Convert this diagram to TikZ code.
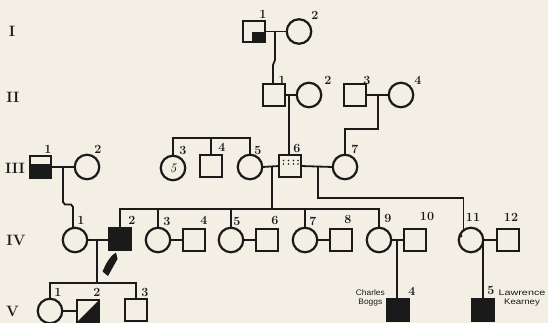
\documentclass[tikz,border=0pt]{standalone}
\usepackage{fontspec}
\newfontfamily\labfont{Liberation Sans}
\definecolor{bg}{HTML}{F3EFE5}
\definecolor{ink}{HTML}{1A1A1A}
\begin{document}
\begin{tikzpicture}[x=1pt,y=-1pt,line join=miter,
  male/.style={draw=ink,line width=2.2pt,rectangle,minimum size=21.5pt,inner sep=0pt,outer sep=0pt},
  female/.style={draw=ink,line width=2.2pt,circle,minimum size=24.5pt,inner sep=0pt,outer sep=0pt},
  conn/.style={draw=ink,line width=1.8pt},
  num/.style={font=\bfseries\fontsize{12.5}{12.5}\selectfont,text=ink,inner sep=0pt},
  gen/.style={font=\bfseries\fontsize{15}{15}\selectfont,text=ink,inner sep=0pt},
  pname/.style={font=\labfont\fontsize{8}{9}\selectfont,text=ink,inner sep=0pt}]
\fill[bg] (0,0) rectangle (548,323);
\useasboundingbox (0,0) rectangle (548,323);

% generation labels
\node[gen] (gI) at (12,31) {I};
\node[gen] (gII) at (13,97) {II};
\node[gen] (gIII) at (15,168) {III};
\node[gen] (gIV) at (16,240) {IV};
\node[gen] (gV) at (12.5,311) {V};

% generation I
\node[male] (i1) at (254,31.5) {};
\fill[ink] (252,32.5) rectangle (i1.south east);
\node[female] (i2) at (299,31.5) {};

% generation II
\node[male] (ii1) at (274,95) {};
\node[female] (ii2) at (309,95) {};
\node[male] (ii3) at (355,95) {};
\node[female] (ii4) at (401,95) {};

% generation III
\node[male] (iii1) at (40.5,167) {};
\fill[ink] (29.5,164) rectangle (iii1.south east);
\node[female] (iii2) at (87,167) {};
\node[female,font=\itshape\fontsize{13}{13}\selectfont] (iii3) at (173,168) {5};
\node[male] (iii4) at (211,166) {};
\node[female] (iii5) at (250,167) {};
\node[male] (iii6) at (290,166) {};
\foreach \x in {283.5,288.5,293.5,298}{\fill[ink] (\x,160.5) circle (0.9) (\x,164) circle (0.9);}
\node[female] (iii7) at (345,167) {};

% generation IV
\node[female] (iv1) at (75,240) {};
\node[male,fill=ink] (iv2) at (120,239) {};
\node[female] (iv3) at (158,240) {};
\node[male] (iv4) at (194,240) {};
\node[female] (iv5) at (231,240) {};
\node[male] (iv6) at (267,240) {};
\node[female] (iv7) at (305,240) {};
\node[male] (iv8) at (341,240) {};
\node[female] (iv9) at (379,240) {};
\node[male] (iv10) at (415,240) {};
\node[female] (iv11) at (471,240) {};
\fill[ink] (461,236) circle (1.6);
\node[male] (iv12) at (508,240) {};

% generation V
\node[female] (v1) at (50,311) {};
\node[male] (v2) at (88,311) {};
\fill[ink] (v2.south west) -- (v2.north east) -- (v2.south east) -- cycle;
\node[male] (v3) at (136,310) {};
\node[male,fill=ink] (v4) at (398,310) {};
\node[male,fill=ink] (v5) at (483,310) {};

% helper coordinates
\coordinate (m1) at (275,31.5);
\coordinate (k1) at (273,65);
\coordinate (m2) at (289,95);
\coordinate (m3) at (378,95);
\coordinate (j3) at (378,129);
\coordinate (m4) at (63,167);
\coordinate (k4) at (73,207);
\coordinate (sib3) at (0,138);
\coordinate (m5) at (272,167);
\coordinate (sib4) at (0,209);
\coordinate (m6) at (318,167);
\coordinate (j6) at (318,198);
\coordinate (m7) at (97,240);
\coordinate (sib5) at (0,283);
\coordinate (m8) at (397,240);
\coordinate (m9) at (483,240);

% connectors
\draw[conn] (i1.east) -- (i2.west);
\draw[conn] (m1) -- (275,60) -- (k1) -- (ii1.north -| k1);
\draw[conn] (ii1.east) -- (ii2.west);
\draw[conn] (m2) -- (iii6.north -| m2);
\draw[conn] (ii3.east) -- (ii4.west);
\draw[conn] (m3) -- (j3) -| (iii7.north);
\draw[conn] (iii1.east) -- (iii2.west);
\draw[conn] (m4) -- (63,202) -- (65,204.5) -- (71,204.5) -- (k4) -- (iv1.north -| k4);
\draw[conn] (iii3.north) -- (iii3.north |- sib3) -- (iii5.north |- sib3) -- (iii5.north);
\draw[conn] (iii4.north) -- (iii4.north |- sib3);
\draw[conn] (iii5.east) -- (iii6.west);
\draw[conn] (m5) -- (m5 |- sib4);
\draw[conn] (iv2.north) -- (iv2.north |- sib4) -- (iv9.north |- sib4) -- (iv9.north);
\draw[conn] (iv3.north) -- (iv3.north |- sib4);
\draw[conn] (iv5.north) -- (iv5.north |- sib4);
\draw[conn] (iv7.north) -- (iv7.north |- sib4);
\draw[conn] (iii6.east) -- (iii7.west);
\draw[conn] (m6) -- (j6) -| (iv11.128);
\draw[conn] (iv1.east) -- (iv1.east -| iv2.west);
\draw[conn] (m7) -- (m7 |- sib5);
\draw[conn] (v1.north) -- (v1.north |- sib5) -- (v3.north |- sib5) -- (v3.north);
\draw[conn] (v1.east) -- (v2.west);
\draw[conn] (iv3.east) -- (iv4.west);
\draw[conn] (iv5.east) -- (iv6.west);
\draw[conn] (iv7.east) -- (iv8.west);
\draw[conn] (iv9.east) -- (iv10.west);
\draw[conn] (m8) -- (v4.north -| m8);
\draw[conn] (iv11.east) -- (iv12.west);
\draw[conn] (m9) -- (v5.north);

% pointing mark
\fill[ink] (102.5,271.5) -- (108,276) -- (117.5,259) -- (116,252.5) -- (112,255.5) -- (108.5,260) -- (106,264) -- cycle;

% number labels
\node[num] (n-i1) at (263,14) {1};
\node[num] (n-i2) at (315,15) {2};
\node[num] (n-ii1) at (282,80) {1};
\node[num] (n-ii2) at (328,80) {2};
\node[num] (n-ii3) at (367,80) {3};
\node[num] (n-ii4) at (418,80) {4};
\node[num] (n-iii1) at (48,149) {1};
\node[num] (n-iii2) at (98,149) {2};
\node[num] (n-iii3) at (183,150) {3};
\node[num] (n-iii4) at (222,147) {4};
\node[num] (n-iii5) at (258,150) {5};
\node[num] (n-iii6) at (297,148) {6};
\node[num] (n-iii7) at (355,149) {7};
\node[num] (n-iv1) at (81,220) {1};
\node[num] (n-iv2) at (132,220) {2};
\node[num] (n-iv3) at (167,221) {3};
\node[num] (n-iv4) at (204,220) {4};
\node[num] (n-iv5) at (237,221) {5};
\node[num] (n-iv6) at (275,220) {6};
\node[num] (n-iv7) at (313,221) {7};
\node[num] (n-iv8) at (348,219) {8};
\node[num] (n-iv9) at (388,218) {9};
\node[num] (n-iv10) at (427,216) {10};
\node[num] (n-iv11) at (473,217) {11};
\node[num] (n-iv12) at (511,217) {12};
\node[num] (n-v1) at (58,292) {1};
\node[num] (n-v2) at (97,292) {2};
\node[num] (n-v3) at (145,292) {3};
\node[num] (n-v4) at (412,291) {4};
\node[num] (n-v5) at (491,290) {5};

% names
\node[pname,anchor=east,align=center] (charles) at (385,297.5) {\scalebox{1.05}[1]{Charles}\\\scalebox{1.05}[1]{Boggs}};
\node[pname,align=center] (lawrence) at (522,298) {\scalebox{1.35}[1]{Lawrence}\\\scalebox{1.2}[1]{Kearney}};
\end{tikzpicture}
\end{document}
